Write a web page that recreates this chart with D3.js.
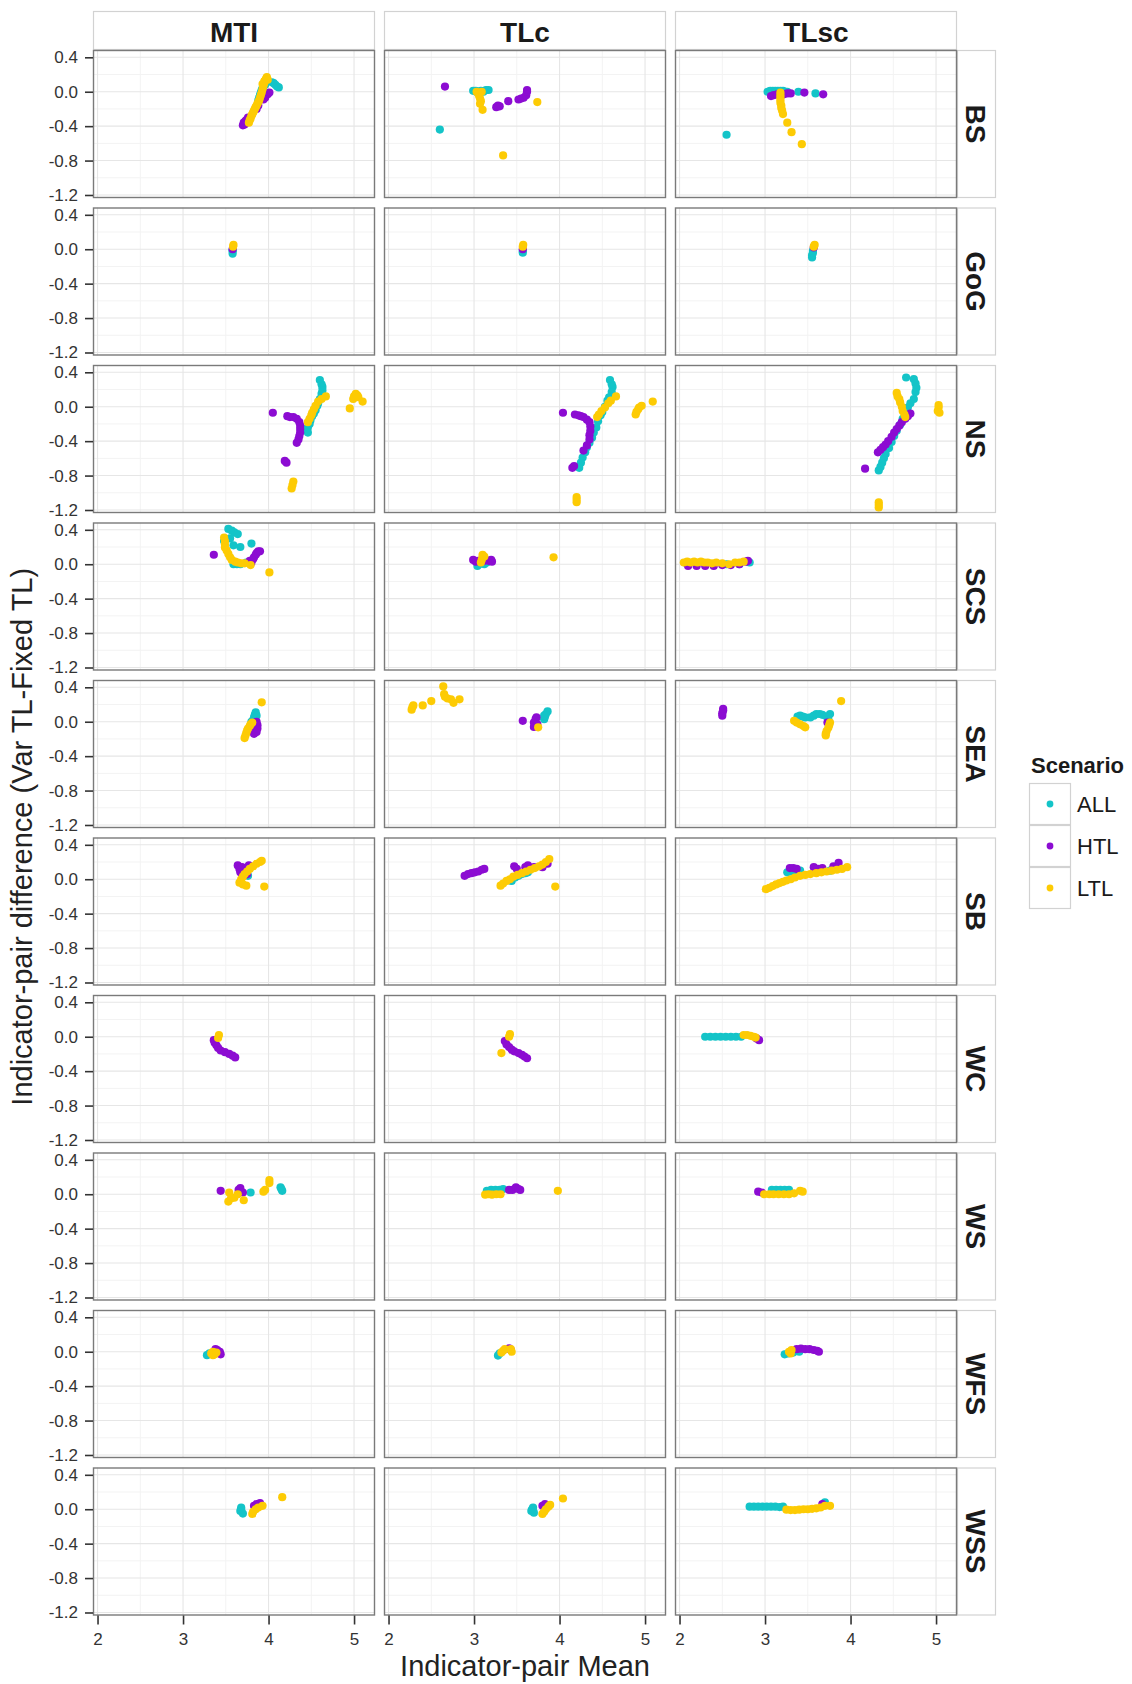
<!DOCTYPE html>
<html>
<head>
<meta charset="utf-8">
<script src="https://cdn.jsdelivr.net/npm/d3@7"></script>
<style>
  body { margin: 0; background: #fff; }
  text { font-family: "Liberation Sans", Arial, sans-serif; }
</style>
</head>
<body>
<svg id="chart" width="1132" height="1684"></svg>
<script>
// facet columns / rows and colour legend
const columns = ["MTI", "TLc", "TLsc"]
const regions = ["BS", "GoG", "NS", "SCS", "SEA", "SB", "WC", "WS", "WFS", "WSS"]
const scenarios = ["ALL", "HTL", "LTL"]
const scenarioColors = ["#14c4c8", "#8c0cd2", "#fdcb04"]

const xTicks = [2, 3, 4, 5]
const xMinor = [2.5, 3.5, 4.5]
const yTicks = [0.4, 0, -0.4, -0.8, -1.2]
const yMinor = [0.2, -0.2, -0.6, -1.0]
const yTickLabels = ["0.4", "0.0", "-0.4", "-0.8", "-1.2"]

// one array per region: [column, scenario, [[mean, difference], ...]]
const BS = [
  ["MTI", "ALL", [[3.88,-0.10],[3.89,-0.07],[3.90,-0.04],[3.91,-0.01],[3.92,0.02],[3.93,0.04],[3.94,0.06],[3.96,0.08],[4.04,0.11],[4.06,0.10],[4.08,0.08],[4.10,0.06],[4.12,0.05]]],
  ["MTI", "HTL", [[3.70,-0.39],[3.71,-0.36],[3.72,-0.38],[3.73,-0.34],[3.74,-0.33],[3.76,-0.30],[3.86,-0.20],[3.88,-0.16],[3.94,-0.09],[3.96,-0.07],[3.99,-0.03],[4.01,-0.01]]],
  ["MTI", "LTL", [[3.77,-0.36],[3.78,-0.33],[3.79,-0.31],[3.80,-0.28],[3.81,-0.26],[3.82,-0.24],[3.83,-0.22],[3.84,-0.20],[3.85,-0.18],[3.86,-0.16],[3.87,-0.14],[3.88,-0.12],[3.89,-0.10],[3.90,-0.07],[3.91,-0.04],[3.92,-0.01],[3.93,0.03],[3.94,0.07],[3.95,0.10],[3.96,0.13],[3.97,0.15],[3.98,0.17],[3.99,0.14],[3.95,0.12],[3.93,0.09]]],
  ["TLc", "ALL", [[2.60,-0.44],[2.99,0.01],[3.02,0.01],[3.05,0.00],[3.08,0.01],[3.11,0.00],[3.14,0.02],[3.17,0.02],[3.04,-0.01]]],
  ["TLc", "HTL", [[2.66,0.06],[3.26,-0.18],[3.28,-0.16],[3.30,-0.17],[3.40,-0.11],[3.52,-0.09],[3.55,-0.08],[3.58,-0.07],[3.61,-0.04],[3.62,0.00],[3.62,0.02]]],
  ["TLc", "LTL", [[3.03,0.00],[3.05,-0.02],[3.06,-0.05],[3.07,-0.08],[3.08,-0.11],[3.07,-0.14],[3.09,0.00],[3.10,-0.21],[3.34,-0.74],[3.74,-0.12]]],
  ["TLsc", "ALL", [[2.55,-0.50],[3.03,0.00],[3.06,0.01],[3.09,0.01],[3.12,0.01],[3.15,0.01],[3.18,0.01],[3.21,0.01],[3.24,0.00],[3.26,0.00],[3.39,0.00],[3.59,-0.02]]],
  ["TLsc", "HTL", [[3.07,-0.05],[3.10,-0.04],[3.14,-0.03],[3.18,-0.03],[3.22,-0.03],[3.26,-0.02],[3.30,-0.02],[3.46,-0.01],[3.68,-0.03]]],
  ["TLsc", "LTL", [[3.18,-0.01],[3.18,-0.04],[3.18,-0.07],[3.18,-0.10],[3.18,-0.13],[3.19,-0.16],[3.19,-0.19],[3.20,-0.22],[3.21,-0.26],[3.26,-0.36],[3.31,-0.47],[3.43,-0.61]]]
]

const GoG = [
  ["MTI", "ALL", [[3.58,-0.05],[3.58,-0.02],[3.58,-0.01]]],
  ["MTI", "HTL", [[3.58,0.00]]],
  ["MTI", "LTL", [[3.585,0.03],[3.59,0.05]]],
  ["TLc", "ALL", [[3.57,-0.04],[3.57,-0.02]]],
  ["TLc", "HTL", [[3.57,0.00]]],
  ["TLc", "LTL", [[3.57,0.03],[3.575,0.05]]],
  ["TLsc", "ALL", [[3.55,-0.095],[3.55,-0.07],[3.56,-0.04],[3.56,-0.02]]],
  ["TLsc", "HTL", [[3.57,0.02]]],
  ["TLsc", "LTL", [[3.57,0.03],[3.58,0.05]]]
]

const NS = [
  ["MTI", "ALL", [[4.60,0.31],[4.62,0.26],[4.63,0.23],[4.63,0.19],[4.62,0.15],[4.60,0.09],[4.58,0.04],[4.57,0.01],[4.55,-0.04],[4.53,-0.08],[4.51,-0.11],[4.49,-0.16],[4.48,-0.20],[4.46,-0.24],[4.45,-0.27],[4.46,-0.30]]],
  ["MTI", "HTL", [[4.05,-0.07],[4.22,-0.11],[4.25,-0.12],[4.29,-0.12],[4.33,-0.14],[4.36,-0.18],[4.37,-0.22],[4.37,-0.26],[4.37,-0.30],[4.36,-0.34],[4.35,-0.38],[4.33,-0.42],[4.19,-0.63],[4.21,-0.65]]],
  ["MTI", "LTL", [[4.67,0.12],[4.62,0.09],[4.58,0.06],[4.55,0.01],[4.53,-0.03],[4.51,-0.07],[4.50,-0.10],[4.48,-0.14],[4.46,-0.18],[4.95,-0.02],[4.99,0.09],[5.00,0.12],[5.02,0.15],[5.04,0.13],[5.05,0.11],[5.10,0.06],[4.29,-0.87],[4.28,-0.91],[4.27,-0.95]]],
  ["TLc", "ALL", [[4.59,0.31],[4.61,0.26],[4.62,0.23],[4.61,0.17],[4.58,0.11],[4.56,0.07],[4.53,0.00],[4.50,-0.06],[4.48,-0.10],[4.45,-0.17],[4.43,-0.24],[4.40,-0.30],[4.38,-0.36],[4.35,-0.42],[4.32,-0.47],[4.30,-0.53],[4.27,-0.59],[4.25,-0.65],[4.23,-0.71]]],
  ["TLc", "HTL", [[4.04,-0.07],[4.18,-0.09],[4.22,-0.10],[4.25,-0.11],[4.28,-0.12],[4.32,-0.15],[4.35,-0.18],[4.36,-0.23],[4.36,-0.28],[4.35,-0.33],[4.35,-0.38],[4.32,-0.45],[4.28,-0.51],[4.15,-0.71],[4.17,-0.69]]],
  ["TLc", "LTL", [[4.66,0.12],[4.60,0.07],[4.57,0.04],[4.53,-0.01],[4.49,-0.05],[4.46,-0.09],[4.44,-0.12],[4.89,-0.09],[4.90,-0.06],[4.92,-0.03],[4.93,-0.01],[4.96,0.01],[5.09,0.06],[4.20,-1.05],[4.20,-1.08],[4.20,-1.11]]],
  ["TLsc", "ALL", [[4.65,0.34],[4.74,0.32],[4.76,0.27],[4.77,0.22],[4.76,0.17],[4.74,0.09],[4.70,0.04],[4.67,-0.01],[4.64,-0.07],[4.61,-0.14],[4.58,-0.21],[4.54,-0.28],[4.51,-0.34],[4.48,-0.41],[4.45,-0.48],[4.41,-0.55],[4.39,-0.60],[4.37,-0.65],[4.35,-0.70],[4.33,-0.74]]],
  ["TLsc", "HTL", [[4.70,-0.08],[4.67,-0.11],[4.64,-0.14],[4.60,-0.18],[4.57,-0.22],[4.54,-0.26],[4.51,-0.30],[4.48,-0.35],[4.44,-0.40],[4.41,-0.44],[4.38,-0.47],[4.35,-0.50],[4.32,-0.53],[4.17,-0.72]]],
  ["TLsc", "LTL", [[4.54,0.16],[4.55,0.12],[4.57,0.09],[4.58,0.05],[4.60,0.00],[4.61,-0.05],[4.63,-0.09],[4.64,-0.12],[5.02,-0.05],[5.03,-0.01],[5.03,0.02],[5.04,-0.07],[4.33,-1.11],[4.33,-1.14],[4.33,-1.17]]]
]

const SCS = [
  ["MTI", "ALL", [[3.53,0.41],[3.57,0.39],[3.60,0.37],[3.64,0.35],[3.48,0.27],[3.55,0.30],[3.59,0.22],[3.67,0.20],[3.80,0.24],[3.59,0.00],[3.63,0.00],[3.67,0.00],[3.74,0.02]]],
  ["MTI", "HTL", [[3.36,0.11],[3.78,0.04],[3.80,0.02],[3.82,0.06],[3.83,0.08],[3.85,0.11],[3.86,0.13],[3.88,0.15],[3.90,0.15]]],
  ["MTI", "LTL", [[3.48,0.31],[3.49,0.27],[3.49,0.23],[3.49,0.195],[3.51,0.16],[3.53,0.12],[3.55,0.08],[3.57,0.05],[3.61,0.03],[3.64,0.02],[3.68,0.01],[3.72,0.01],[3.79,-0.01],[4.01,-0.095]]],
  ["TLc", "ALL", [[3.04,-0.02],[3.06,0.00],[3.08,0.02],[3.12,0.00],[3.15,0.02]]],
  ["TLc", "HTL", [[2.99,0.05],[3.02,0.03],[3.05,0.04],[3.12,0.04],[3.17,0.04],[3.20,0.05],[3.21,0.03]]],
  ["TLc", "LTL", [[3.08,0.02],[3.09,0.05],[3.10,0.08],[3.10,0.11],[3.12,0.09],[3.93,0.08]]],
  ["TLsc", "ALL", [[2.08,0.01],[2.30,0.01],[2.55,0.00],[2.70,0.00],[2.80,0.03],[2.82,0.02]]],
  ["TLsc", "HTL", [[2.10,-0.02],[2.20,-0.02],[2.30,-0.02],[2.40,-0.02],[2.50,-0.01],[2.60,-0.01],[2.70,0.00],[2.78,0.03],[2.80,0.04]]],
  ["TLsc", "LTL", [[2.05,0.02],[2.09,0.03],[2.13,0.02],[2.17,0.03],[2.21,0.02],[2.25,0.03],[2.29,0.02],[2.33,0.02],[2.38,0.01],[2.43,0.02],[2.50,0.01],[2.58,0.00],[2.65,0.02],[2.70,0.02],[2.75,0.03]]]
]

const SEA = [
  ["MTI", "ALL", [[3.80,0.00],[3.82,0.02],[3.83,0.05],[3.84,0.08],[3.85,0.11],[3.86,0.07]]],
  ["MTI", "HTL", [[3.83,-0.14],[3.84,-0.10],[3.85,-0.06],[3.85,-0.03],[3.86,-0.12],[3.87,-0.08],[3.87,-0.04],[3.86,0.00]]],
  ["MTI", "LTL", [[3.72,-0.19],[3.73,-0.16],[3.74,-0.13],[3.75,-0.10],[3.76,-0.08],[3.78,-0.05],[3.79,-0.03],[3.81,-0.01],[3.92,0.225]]],
  ["TLc", "ALL", [[3.82,0.03],[3.83,0.06],[3.84,0.09],[3.86,0.12],[3.82,0.07]]],
  ["TLc", "HTL", [[3.57,0.01],[3.70,-0.01],[3.72,0.03],[3.73,0.05],[3.70,-0.06],[3.74,-0.03]]],
  ["TLc", "LTL", [[2.27,0.14],[2.28,0.17],[2.29,0.19],[2.40,0.19],[2.50,0.24],[2.64,0.41],[2.65,0.32],[2.66,0.29],[2.69,0.27],[2.73,0.26],[2.76,0.22],[2.83,0.26],[3.75,-0.065]]],
  ["TLsc", "ALL", [[3.38,0.06],[3.41,0.07],[3.44,0.06],[3.47,0.05],[3.53,0.05],[3.57,0.07],[3.60,0.09],[3.64,0.09],[3.67,0.08],[3.72,0.06],[3.76,0.09],[3.74,0.03]]],
  ["TLsc", "HTL", [[2.50,0.07],[2.50,0.10],[2.51,0.13],[2.51,0.15],[3.73,-0.01]]],
  ["TLsc", "LTL", [[3.34,0.01],[3.37,-0.01],[3.41,-0.03],[3.45,-0.05],[3.47,-0.065],[3.76,-0.01],[3.75,-0.04],[3.74,-0.07],[3.72,-0.11],[3.71,-0.14],[3.71,-0.16],[3.89,0.24]]]
]

const SB = [
  ["MTI", "ALL", [[3.70,0.06],[3.74,0.08],[3.76,0.04]]],
  ["MTI", "HTL", [[3.64,0.16],[3.66,0.12],[3.67,0.08],[3.69,0.14],[3.71,0.04],[3.72,0.10],[3.74,0.13],[3.75,0.06],[3.77,0.16]]],
  ["MTI", "LTL", [[3.66,-0.04],[3.68,0.00],[3.70,0.03],[3.72,0.06],[3.75,0.09],[3.78,0.12],[3.82,0.15],[3.86,0.18],[3.90,0.20],[3.92,0.215],[3.74,-0.075],[3.70,-0.06],[3.95,-0.085]]],
  ["TLc", "ALL", [[3.44,-0.02],[3.48,0.02],[3.52,0.04],[3.56,0.06],[3.60,0.07],[3.63,0.08]]],
  ["TLc", "HTL", [[2.89,0.04],[2.93,0.06],[2.97,0.07],[3.01,0.08],[3.05,0.09],[3.09,0.11],[3.12,0.12],[3.47,0.15],[3.50,0.12],[3.60,0.14],[3.63,0.16],[3.70,0.14],[3.80,0.14],[3.86,0.18]]],
  ["TLc", "LTL", [[3.31,-0.075],[3.34,-0.05],[3.38,-0.02],[3.42,0.00],[3.46,0.03],[3.51,0.05],[3.56,0.07],[3.61,0.09],[3.66,0.11],[3.71,0.13],[3.76,0.15],[3.80,0.17],[3.84,0.20],[3.88,0.235],[3.95,-0.085]]],
  ["TLsc", "ALL", [[3.26,0.08],[3.30,0.09],[3.35,0.10],[3.41,0.10],[3.76,0.10]]],
  ["TLsc", "HTL", [[3.29,0.13],[3.33,0.13],[3.37,0.12],[3.57,0.14],[3.62,0.12],[3.67,0.13],[3.80,0.15],[3.86,0.19]]],
  ["TLsc", "LTL", [[3.01,-0.115],[3.05,-0.10],[3.09,-0.08],[3.13,-0.06],[3.17,-0.045],[3.21,-0.03],[3.25,-0.015],[3.30,0.00],[3.35,0.02],[3.41,0.04],[3.47,0.05],[3.53,0.06],[3.60,0.07],[3.66,0.08],[3.72,0.09],[3.78,0.10],[3.84,0.11],[3.90,0.12],[3.96,0.14]]]
]

const WC = [
  ["MTI", "HTL", [[3.36,-0.04],[3.37,-0.07],[3.39,-0.10],[3.41,-0.13],[3.44,-0.16],[3.49,-0.18],[3.54,-0.20],[3.58,-0.22],[3.61,-0.24]]],
  ["MTI", "LTL", [[3.42,0.02],[3.41,-0.015]]],
  ["TLc", "HTL", [[3.36,-0.05],[3.38,-0.09],[3.41,-0.12],[3.44,-0.15],[3.47,-0.17],[3.52,-0.19],[3.56,-0.21],[3.59,-0.23],[3.62,-0.25]]],
  ["TLc", "LTL", [[3.42,0.03],[3.41,0.00],[3.32,-0.19]]],
  ["TLsc", "ALL", [[2.30,0.00],[2.36,0.00],[2.42,0.00],[2.48,0.00],[2.54,0.00],[2.60,0.00],[2.66,0.00],[2.72,0.00]]],
  ["TLsc", "HTL", [[2.93,-0.04],[2.90,-0.02]]],
  ["TLsc", "LTL", [[2.75,0.02],[2.79,0.02],[2.83,0.01],[2.87,0.00],[2.89,-0.01]]]
]

const WS = [
  ["MTI", "ALL", [[3.79,0.02],[4.14,0.08],[4.16,0.04],[4.15,0.06]]],
  ["MTI", "HTL", [[3.44,0.04],[3.65,0.05],[3.67,0.07],[3.70,0.02]]],
  ["MTI", "LTL", [[3.54,0.02],[3.53,-0.085],[3.56,-0.05],[3.60,-0.04],[3.64,0.00],[3.71,-0.07],[3.96,0.05],[3.94,0.03],[4.01,0.165],[4.01,0.13]]],
  ["TLc", "ALL", [[3.15,0.04],[3.20,0.05],[3.25,0.05],[3.30,0.05],[3.34,0.06]]],
  ["TLc", "HTL", [[3.41,0.05],[3.45,0.05],[3.49,0.08],[3.52,0.06],[3.54,0.05]]],
  ["TLc", "LTL", [[3.13,-0.005],[3.17,0.00],[3.21,-0.005],[3.26,0.00],[3.31,0.00],[3.98,0.04]]],
  ["TLsc", "ALL", [[3.08,0.05],[3.13,0.05],[3.18,0.05],[3.23,0.05],[3.28,0.05]]],
  ["TLsc", "HTL", [[2.92,0.03],[2.96,0.02]]],
  ["TLsc", "LTL", [[2.99,0.00],[3.05,0.00],[3.10,0.00],[3.16,0.00],[3.22,0.00],[3.28,0.00],[3.34,0.01],[3.41,0.04],[3.44,0.03]]]
]

const WFS = [
  ["MTI", "ALL", [[3.28,-0.04],[3.31,-0.02]]],
  ["MTI", "HTL", [[3.40,0.02],[3.44,-0.03],[3.43,0.00],[3.38,0.03]]],
  ["MTI", "LTL", [[3.33,-0.02],[3.35,0.00],[3.37,-0.03],[3.35,-0.04],[3.39,-0.01]]],
  ["TLc", "ALL", [[3.28,-0.045],[3.30,-0.02]]],
  ["TLc", "HTL", [[3.41,0.04],[3.43,0.02]]],
  ["TLc", "LTL", [[3.34,0.01],[3.32,-0.01],[3.36,0.03],[3.44,0.00],[3.43,0.03]]],
  ["TLsc", "ALL", [[3.23,-0.03],[3.27,-0.02],[3.33,-0.01],[3.40,0.00]]],
  ["TLsc", "HTL", [[3.37,0.03],[3.42,0.035],[3.47,0.03],[3.52,0.03],[3.57,0.02],[3.61,0.01],[3.63,0.00]]],
  ["TLsc", "LTL", [[3.28,0.00],[3.31,0.02],[3.30,-0.02]]]
]

const WSS = [
  ["MTI", "ALL", [[3.67,-0.02],[3.68,0.00],[3.68,0.02],[3.70,-0.05]]],
  ["MTI", "HTL", [[3.83,0.04],[3.86,0.06],[3.90,0.07]]],
  ["MTI", "LTL", [[3.81,-0.055],[3.82,-0.03],[3.85,0.00],[3.88,0.02],[3.93,0.04],[4.16,0.14]]],
  ["TLc", "ALL", [[3.67,-0.02],[3.68,0.00],[3.69,0.02],[3.70,-0.04]]],
  ["TLc", "HTL", [[3.80,0.04],[3.83,0.06]]],
  ["TLc", "LTL", [[3.80,-0.055],[3.82,-0.03],[3.84,0.00],[3.87,0.03],[3.89,0.05],[4.04,0.125]]],
  ["TLsc", "ALL", [[2.82,0.03],[2.87,0.03],[2.92,0.03],[2.97,0.03],[3.02,0.03],[3.07,0.03],[3.12,0.03],[3.17,0.025],[3.21,0.03],[3.70,0.08]]],
  ["TLsc", "HTL", [[3.67,0.06]]],
  ["TLsc", "LTL", [[3.25,-0.005],[3.30,-0.01],[3.35,-0.01],[3.40,-0.005],[3.45,0.00],[3.50,0.00],[3.55,0.005],[3.60,0.01],[3.65,0.02],[3.70,0.04],[3.76,0.04]]]
]

const regionData = [BS, GoG, NS, SCS, SEA, SB, WC, WS, WFS, WSS]

// layout
const panelLeft = [93, 384, 675]
const panelW = 282
const panelH = 148
const rowTop = 50
const rowStep = 157.5
const stripTop = 11
const stripW = 39

const svg = d3.select("#chart")
svg.append("rect").attr("width", 1132).attr("height", 1684).attr("fill", "#fff")

const x = d3.scaleLinear().domain([1.947, 5.245]).range([0, panelW])
const y = d3.scaleLinear().domain([-1.235, 0.485]).range([panelH, 0])
const color = d3.scaleOrdinal().domain(scenarios).range(scenarioColors)

// column strips on top
columns.forEach((c, ci) => {
  const g = svg.append("g").attr("transform", `translate(${panelLeft[ci]},${stripTop})`)
  g.append("rect").attr("x", 0.5).attr("y", 0.5)
    .attr("width", panelW - 1).attr("height", rowTop - stripTop - 1)
    .attr("fill", "#fff").attr("stroke", "#d2d2d2").attr("stroke-width", 1.2)
  g.append("text").attr("x", panelW / 2).attr("y", 30.5)
    .attr("text-anchor", "middle").attr("font-size", 28).attr("font-weight", "bold")
    .attr("fill", "#1a1a1a").text(c)
})

regions.forEach((r, ri) => {
  const top = rowTop + ri * rowStep

  // row strip on the right
  const sx = panelLeft[2] + panelW
  svg.append("rect").attr("x", sx + 0.5).attr("y", top + 0.5)
    .attr("width", stripW - 1).attr("height", panelH - 1)
    .attr("fill", "#fff").attr("stroke", "#d2d2d2").attr("stroke-width", 1.2)
  svg.append("text")
    .attr("transform", `translate(${sx + 9},${top + panelH / 2}) rotate(90)`)
    .attr("text-anchor", "middle").attr("font-size", 28).attr("font-weight", "bold")
    .attr("fill", "#1a1a1a").text(r)

  columns.forEach((c, ci) => {
    const g = svg.append("g").attr("transform", `translate(${panelLeft[ci]},${top})`)
    g.append("rect").attr("width", panelW).attr("height", panelH).attr("fill", "#fff")

    // grid
    g.selectAll(".gxm").data(xMinor).enter().append("line")
      .attr("x1", d => x(d)).attr("x2", d => x(d)).attr("y1", 0).attr("y2", panelH)
      .attr("stroke", "#f3f3f3").attr("stroke-width", 1)
    g.selectAll(".gym").data(yMinor).enter().append("line")
      .attr("y1", d => y(d)).attr("y2", d => y(d)).attr("x1", 0).attr("x2", panelW)
      .attr("stroke", "#f3f3f3").attr("stroke-width", 1)
    g.selectAll(".gx").data(xTicks).enter().append("line")
      .attr("x1", d => x(d)).attr("x2", d => x(d)).attr("y1", 0).attr("y2", panelH)
      .attr("stroke", "#e6e6e6").attr("stroke-width", 1.1)
    g.selectAll(".gy").data(yTicks).enter().append("line")
      .attr("y1", d => y(d)).attr("y2", d => y(d)).attr("x1", 0).attr("x2", panelW)
      .attr("stroke", "#e6e6e6").attr("stroke-width", 1.1)

    // points, drawn ALL -> HTL -> LTL
    regionData[ri].filter(s => s[0] === c).forEach(s => {
      g.selectAll(null).data(s[2]).enter().append("circle")
        .attr("cx", d => x(d[0])).attr("cy", d => y(d[1])).attr("r", 4.1)
        .attr("fill", color(s[1]))
    })

    g.append("rect").attr("x", 0.5).attr("y", 0.5)
      .attr("width", panelW - 1).attr("height", panelH - 1)
      .attr("fill", "none").attr("stroke", "#7a7a7a").attr("stroke-width", 1.4)

    // y axis on first column
    if (ci === 0) {
      const ay = g.append("g").call(d3.axisLeft(y).tickValues(yTicks)
        .tickFormat((d, i) => yTickLabels[i]).tickSize(8).tickPadding(7))
      ay.select(".domain").remove()
      ay.selectAll("line").attr("stroke", "#333").attr("stroke-width", 1.6)
      ay.selectAll("text").attr("font-size", 17).attr("fill", "#333")
        .attr("font-family", '"Liberation Sans", Arial, sans-serif')
    }
    // x axis on last row
    if (ri === regions.length - 1) {
      const ax = g.append("g").attr("transform", `translate(0,${panelH})`)
        .call(d3.axisBottom(x).tickValues(xTicks).tickFormat(d3.format("d")).tickSize(9).tickPadding(8))
      ax.select(".domain").remove()
      ax.selectAll("line").attr("stroke", "#333").attr("stroke-width", 1.6)
      ax.selectAll("text").attr("font-size", 17).attr("fill", "#333")
        .attr("font-family", '"Liberation Sans", Arial, sans-serif')
    }
  })
})

// axis titles
const panelsBottom = rowTop + (regions.length - 1) * rowStep + panelH
svg.append("text").attr("x", (panelLeft[0] + panelLeft[2] + panelW) / 2).attr("y", 1676)
  .attr("text-anchor", "middle").attr("font-size", 29).attr("fill", "#222")
  .text("Indicator-pair Mean")
svg.append("text")
  .attr("transform", `translate(32,${(rowTop + panelsBottom) / 2 + 4}) rotate(-90)`)
  .attr("text-anchor", "middle").attr("font-size", 29).attr("fill", "#222")
  .text("Indicator-pair difference (Var TL-Fixed TL)")

// legend
const lg = svg.append("g").attr("transform", "translate(1029,783)")
lg.append("text").attr("x", 2).attr("y", -10).attr("font-size", 22).attr("font-weight", "bold")
  .attr("fill", "#1a1a1a").text("Scenario")
scenarios.forEach((s, i) => {
  lg.append("rect").attr("x", 0.5).attr("y", i * 42 + 0.5).attr("width", 41).attr("height", 41)
    .attr("fill", "#fff").attr("stroke", "#d2d2d2").attr("stroke-width", 1.2)
  lg.append("circle").attr("cx", 21).attr("cy", i * 42 + 21).attr("r", 3.4).attr("fill", color(s))
  lg.append("text").attr("x", 48).attr("y", i * 42 + 21).attr("dy", "0.36em")
    .attr("font-size", 22).attr("fill", "#1a1a1a").text(s)
})
</script>
</body>
</html>
